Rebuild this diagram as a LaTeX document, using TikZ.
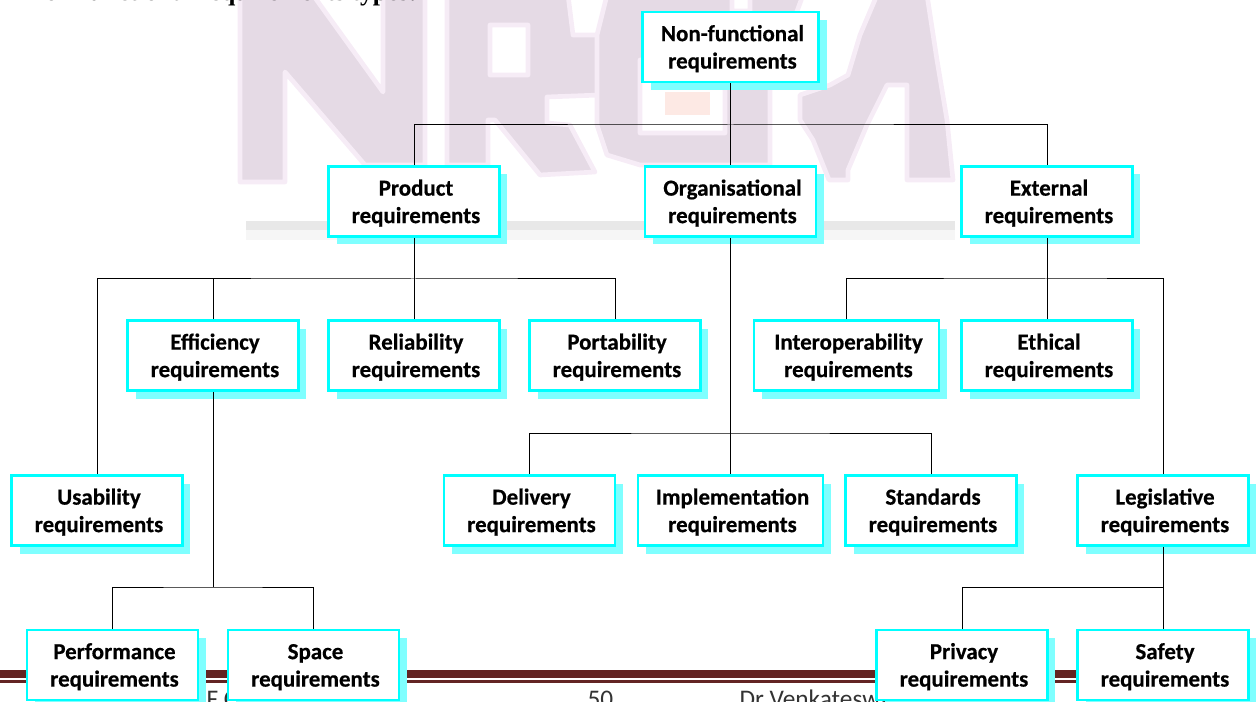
\documentclass[tikz,border=0pt]{standalone}
\usepackage{fontspec}
\setmainfont{Carlito}[BoldFeatures={FakeBold=0.5}]
\newfontfamily\headfont{Liberation Serif}
\usetikzlibrary{shadows}

\definecolor{boxcyan}{RGB}{0,255,255}
\definecolor{shadowcyan}{RGB}{127,255,255}
\definecolor{markpink}{RGB}{229,218,229}
\definecolor{markedge}{RGB}{246,236,246}
\definecolor{footred}{RGB}{99,36,35}

\newcommand{\reqlabel}[1]{\rule{0pt}{14.5pt}\hspace*{3pt}#1\\\hspace*{3pt}requirements}

\tikzset{every picture/.style={line width=0.75pt}}
\tikzset{reqbox/.style={draw=boxcyan,line width=1.9pt,fill=white,align=center,inner sep=0pt,
    minimum width=128pt,minimum height=52.5pt,font=\fontsize{17.2}{20.6}\selectfont\bfseries,
    general shadow={fill=shadowcyan,shadow xshift=6pt,shadow yshift=-6pt}}}
\tikzset{watermark/.style={fill=markpink,draw=markedge,line width=3.5pt,line join=round}}
\tikzset{footnote/.style={anchor=base west,inner sep=0pt,text=black!80,font=\fontsize{19}{22}\selectfont}}

\begin{document}
\begin{tikzpicture}[x=0.75pt,y=0.75pt,yscale=-1,xscale=1]
\useasboundingbox (0,0) rectangle (1256,702);

%Watermark letters
\draw [watermark] (240,-5) -- (313,-5) -- (383,92) -- (383,-5) -- (425,-5) -- (425,165) -- (365,165) -- (285,72) -- (285,182) -- (240,182) -- cycle ;
\draw [watermark,even odd rule] (447,-5) -- (568,-5) -- (573,35) -- (600,35) -- (600,95) -- (547,97) -- (547,123) -- (570,125) -- (595,172) -- (540,175) -- (495,120) -- (488,120) -- (488,165) -- (447,165) -- cycle (490,25) -- (528,25) -- (528,75) -- (490,75) -- cycle ;
\draw [watermark,even odd rule] (607,-5) -- (732,-5) -- (732,11) -- (750,11) -- (750,-5) -- (803,-5) -- (770,85) -- (770,165) -- (640,165) -- (607,155) -- (597,125) -- (597,35) -- cycle (640,60) -- (725,60) -- (725,133) -- (640,133) -- cycle ;
\draw [watermark] (800,95) -- (830,85) -- (848,75) -- (860,35) -- (877,-5) -- (927,-5) -- (937,60) -- (947,120) -- (953,180) -- (907,180) -- (907,85) -- (887,85) -- (867,125) -- (848,170) -- (848,180) -- (829,180) -- (813,140) -- (800,120) -- cycle ;
\fill [color={rgb, 255:red, 253; green, 233; blue, 228 }] (665,92) rectangle (710,115);
\fill [color={rgb, 255:red, 232; green, 232; blue, 232 }] (246,221) rectangle (955,230);
\fill [color={rgb, 255:red, 246; green, 246; blue, 246 }] (246,230) rectangle (955,240);

%Clipped heading and page footer
\node (heading) [anchor=base west,inner sep=0pt,font=\headfont\fontsize{19.3}{22}\selectfont\bfseries] at (26,1) {Non-functional requirements types:};
\fill [footred] (0,670) rectangle (1256,677.5);
\fill [footred] (0,680) rectangle (1256,682.5);
\node (footleft) [footnote] at (206,707) {F C};
\node (footpage) [footnote] at (587,707) {50};
\node (footname) [footnote] at (739,707) {Dr Venkateswa};

%Requirement boxes
\node (root) [reqbox,minimum width=132pt] at (730.5,47) {\reqlabel{Non-functional}};
\node (product) [reqbox] at (414,201.5) {\reqlabel{Product}};
\node (organisational) [reqbox] at (730.5,201.5) {\reqlabel{Organisational}};
\node (external) [reqbox] at (1047,201.5) {\reqlabel{External}};
\node (efficiency) [reqbox] at (213,355.5) {\reqlabel{Efficiency}};
\node (reliability) [reqbox] at (414,355.5) {\reqlabel{Reliability}};
\node (portability) [reqbox] at (615,355.5) {\reqlabel{Portability}};
\node (interoperability) [reqbox,minimum width=138.5pt] at (846.5,355.5) {\reqlabel{Interoperability}};
\node (ethical) [reqbox] at (1047,355.5) {\reqlabel{Ethical}};
\node (usability) [reqbox] at (97,510.5) {\reqlabel{Usability}};
\node (delivery) [reqbox] at (529.5,510.5) {\reqlabel{Delivery}};
\node (implementation) [reqbox,minimum width=138.5pt] at (730.5,510.5) {\reqlabel{Implementation}};
\node (standards) [reqbox] at (931,510.5) {\reqlabel{Standards}};
\node (legislative) [reqbox] at (1163,510.5) {\reqlabel{Legislative}};
\node (performance) [reqbox] at (112.5,665) {\reqlabel{Performance}};
\node (space) [reqbox] at (313.5,665) {\reqlabel{Space}};
\node (privacy) [reqbox] at (962,665) {\reqlabel{Privacy}};
\node (safety) [reqbox] at (1163,665) {\reqlabel{Safety}};

%Bus levels
\coordinate (rootbus) at (730.5,125);
\coordinate (productbus) at (414,279);
\coordinate (externalbus) at (1047,279);
\coordinate (organisationalbus) at (730.5,433);
\coordinate (efficiencybus) at (213,587);
\coordinate (legislativebus) at (1163,587);

%Connectors
\draw (root.south) -- (organisational.north);
\draw (product.north) |- (rootbus) -| (external.north);
\draw (product.south) -- (reliability.north);
\draw (usability.north) |- (productbus) -| (portability.north);
\draw (efficiency.north) -- (efficiency.north |- productbus);
\draw (external.south) -- (ethical.north);
\draw (interoperability.north) |- (externalbus) -| (legislative.north);
\draw (organisational.south) -- (implementation.north);
\draw (delivery.north) |- (organisationalbus) -| (standards.north);
\draw (efficiency.south) -- (efficiencybus);
\draw (performance.north) |- (efficiencybus) -| (space.north);
\draw (legislative.south) -- (safety.north);
\draw (privacy.north) |- (legislativebus);

\end{tikzpicture}
\end{document}
